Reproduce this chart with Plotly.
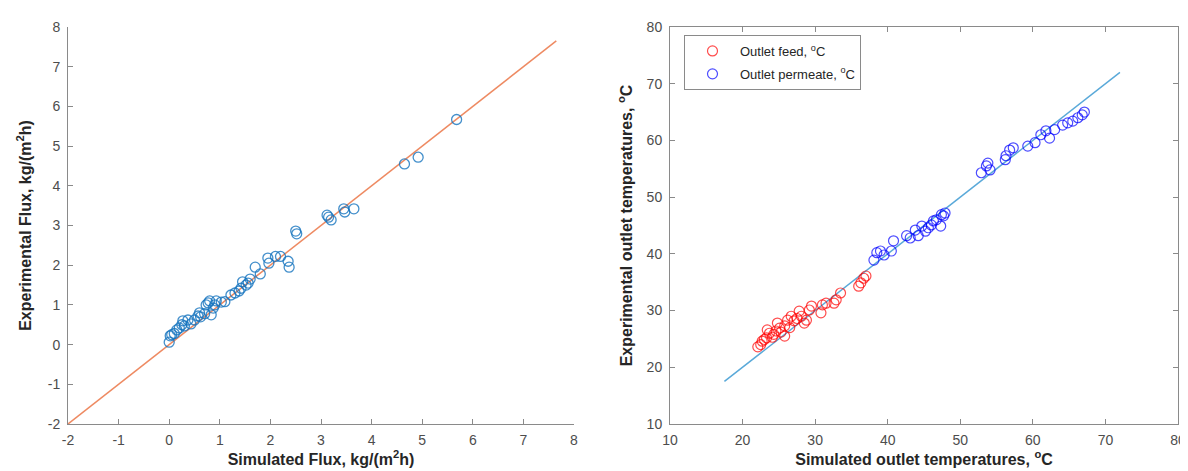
import plotly.graph_objects as go

# ---- Left panel: flux ----
flux_sim = [0.0, 0.02, 0.05, 0.1, 0.15, 0.2, 0.25, 0.27, 0.3, 0.37, 0.43, 0.5, 0.57, 0.6, 0.62,
            0.7, 0.73, 0.77, 0.8, 0.83, 0.87, 0.9, 0.93, 1.03, 1.1, 1.22, 1.3, 1.38, 1.42, 1.45,
            1.52, 1.56, 1.6, 1.7, 1.8, 1.95, 1.97, 2.1, 2.2, 2.35, 2.37, 2.5, 2.52, 3.12, 3.15,
            3.2, 3.45, 3.47, 3.65, 4.65, 4.92, 5.68]
flux_exp = [0.06, 0.22, 0.25, 0.28, 0.37, 0.42, 0.5, 0.6, 0.47, 0.62, 0.52, 0.62, 0.72, 0.8, 0.7,
            0.78, 1.0, 1.05, 1.1, 0.75, 0.92, 1.0, 1.1, 1.07, 1.08, 1.25, 1.3, 1.35, 1.42, 1.58,
            1.5, 1.55, 1.65, 1.95, 1.78, 2.18, 2.05, 2.22, 2.22, 2.1, 1.95, 2.86, 2.79, 3.26, 3.21,
            3.14, 3.42, 3.34, 3.42, 4.55, 4.72, 5.67]
flux_ref = [-2, 7.65]

# ---- Right panel: outlet temperatures ----
feed_sim = [22.1, 22.5, 22.7, 23.0, 23.3, 23.4, 23.7, 24.1, 24.3, 24.6, 24.8, 25.1, 25.3, 25.8, 25.8,
            26.2, 26.5, 26.7, 27.1, 27.5, 27.8, 28.1, 28.5, 28.8, 29.2, 29.5, 30.8, 31.0, 31.5, 32.6,
            32.9, 33.5, 36.0, 36.3, 36.7, 37.0]
feed_exp = [23.6, 24.0, 24.6, 24.9, 25.2, 26.6, 26.0, 25.3, 25.8, 26.4, 27.8, 26.9, 26.2, 27.3, 25.5,
            28.3, 27.0, 29.0, 28.2, 28.6, 29.9, 29.0, 27.8, 28.3, 30.1, 30.8, 29.6, 31.0, 31.3, 31.3,
            31.9, 33.1, 34.3, 34.9, 35.7, 36.1]
perm_sim = [38.1, 38.5, 39.0, 39.5, 40.5, 40.8, 42.6, 43.1, 43.8, 44.2, 44.7, 45.2, 45.6, 46.0, 46.3,
            46.7, 47.3, 47.4, 47.7, 47.9, 52.9, 53.6, 53.8, 54.1, 56.2, 56.3, 56.8, 57.3, 59.3, 60.3,
            61.1, 61.8, 62.3, 63.0, 64.1, 64.8, 65.5, 66.2, 66.8, 67.1]
perm_exp = [38.9, 40.2, 40.5, 39.8, 40.5, 42.3, 43.2, 42.8, 44.2, 43.2, 44.9, 44.0, 44.6, 45.1, 45.8,
            46.0, 44.9, 46.9, 46.7, 47.2, 54.3, 55.5, 56.0, 54.8, 56.6, 57.3, 58.3, 58.7, 59.0, 59.6,
            61.0, 61.7, 60.4, 61.9, 62.7, 63.1, 63.4, 64.0, 64.5, 65.0]
temp_ref = [17.5, 72]

left_ticks = list(range(-2, 9))
left_ticktext = [str(v) for v in left_ticks]   # plain hyphen minus as in the reference
right_ticks = list(range(10, 81, 10))

FONT = "Liberation Sans, Arial, sans-serif"
AXC = "#8a8a8a"
TICKC = "#4d4d4d"
TITLEC = "#262626"

fig = go.Figure()

fig.add_trace(go.Scatter(x=flux_ref, y=flux_ref, mode="lines",
                         line=dict(color="#EE8A62", width=1.5), showlegend=False,
                         xaxis="x", yaxis="y"))
fig.add_trace(go.Scatter(x=flux_sim, y=flux_exp, mode="markers",
                         marker=dict(symbol="circle-open", size=10, color="rgba(20,115,190,0.8)",
                                     line=dict(width=1.3)),
                         showlegend=False, xaxis="x", yaxis="y"))

fig.add_trace(go.Scatter(x=temp_ref, y=temp_ref, mode="lines",
                         line=dict(color="#5AA9D9", width=1.5), showlegend=False,
                         xaxis="x2", yaxis="y2"))
fig.add_trace(go.Scatter(x=feed_sim, y=feed_exp, mode="markers", name="Outlet feed, <sup>o</sup>C",
                         legendgroup="feed",
                         marker=dict(symbol="circle-open", size=10, color="rgba(255,0,0,0.7)",
                                     line=dict(width=1.2)),
                         xaxis="x2", yaxis="y2"))
fig.add_trace(go.Scatter(x=perm_sim, y=perm_exp, mode="markers", name="Outlet permeate, <sup>o</sup>C",
                         legendgroup="perm",
                         marker=dict(symbol="circle-open", size=10, color="rgba(0,0,255,0.7)",
                                     line=dict(width=1.2)),
                         xaxis="x2", yaxis="y2"))

common = dict(showline=True, linecolor=AXC, linewidth=1, ticks="inside", ticklen=5,
              tickcolor=AXC, showgrid=False, zeroline=False, automargin=False,
              tickfont=dict(family=FONT, size=14, color=TICKC))
titlefont = dict(family=FONT, size=16, color=TITLEC)

L, R, T, B = 60, 18, 19, 55
PW = 1188 - L - R
PH = 471 - T - B


def dx(px):
    return (px - L) / PW


fig.update_layout(
    width=1188, height=471,
    margin=dict(l=L, r=R, t=T, b=B),
    paper_bgcolor="white", plot_bgcolor="white",
    font=dict(family=FONT),
    xaxis=dict(domain=[0, dx(566)], range=[-2, 8], tickvals=left_ticks, ticktext=left_ticktext,
               anchor="y", ticklabelstandoff=3,
               title=dict(text="<b>Simulated Flux, kg/(m<sup>2</sup>h)</b>", font=titlefont,
                          standoff=6),
               **common),
    yaxis=dict(domain=[0, 1], range=[-2, 8], tickvals=left_ticks, ticktext=left_ticktext,
               anchor="x", ticklabelstandoff=4,
               title=dict(text="<b>Experimental Flux, kg/(m<sup>2</sup>h)</b>", font=titlefont,
                          standoff=12),
               **common),
    xaxis2=dict(domain=[dx(662), 1], range=[10, 80], tickvals=right_ticks,
                anchor="y2", mirror="ticks", ticklabelstandoff=3,
                title=dict(text="<b>Simulated outlet temperatures, <sup>o</sup>C</b>",
                           font=titlefont, standoff=6),
                **common),
    yaxis2=dict(domain=[0, 1], range=[10, 80], tickvals=right_ticks, anchor="x2", mirror="ticks",
                ticklabelstandoff=4,
                title=dict(text="<b>Experimental outlet temperatures, <sup>o</sup>C</b>",
                           font=titlefont, standoff=10),
                **common),
    legend=dict(x=dx(676), y=1 - (27 - T) / PH, xref="paper", yref="paper",
                xanchor="left", yanchor="top", traceorder="grouped", tracegroupgap=3,
                itemwidth=45,
                bordercolor="#8a8a8a", borderwidth=1, bgcolor="white",
                font=dict(family=FONT, size=13, color=TITLEC)),
)

fig.write_html("out.html")
